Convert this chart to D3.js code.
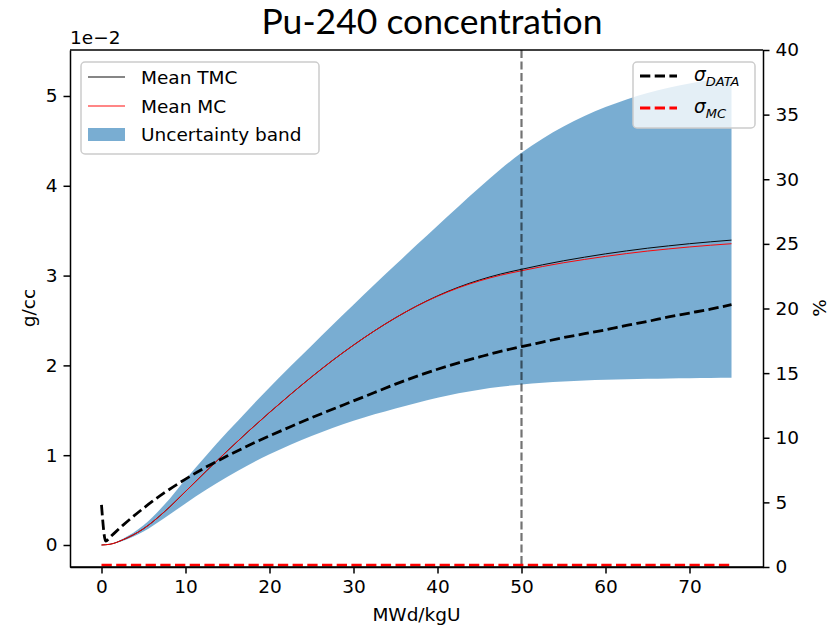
<!DOCTYPE html>
<html>
<head>
<meta charset="utf-8">
<script src="https://cdn.jsdelivr.net/npm/d3@7"></script>
<style>
  body { margin: 0; background: #fff; }
  text { font-family: "DejaVu Sans", sans-serif; fill: #000; }
</style>
</head>
<body>
<svg id="chart" width="837" height="631"></svg>
<script>
// burnup steps (MWd/kgU)
const burnup = [0, 0.5, 1, 2.5, 5, 7.5, 10, 12.5, 15, 17.5, 20, 22.5, 25, 27.5, 30, 32.5, 35, 37.5,
    40, 42.5, 45, 47.5, 50, 52.5, 55, 57.5, 60, 62.5, 65, 67.5, 70, 72.5, 75];

// concentrations, in units of 1e-2 g/cc
const meanTMC = [0, 0.003, 0.008, 0.056, 0.181, 0.371, 0.596, 0.826, 1.05, 1.267, 1.476, 1.677, 1.871,
    2.055, 2.226, 2.385, 2.53, 2.66, 2.774, 2.871, 2.951, 3.017, 3.07, 3.12, 3.165, 3.205, 3.242,
    3.275, 3.305, 3.331, 3.355, 3.376, 3.395];
const meanMC = [0, 0.003, 0.008, 0.056, 0.181, 0.371, 0.596, 0.826, 1.05, 1.267, 1.476, 1.677, 1.871,
    2.055, 2.226, 2.385, 2.53, 2.66, 2.770, 2.864, 2.941, 3.004, 3.054, 3.101, 3.143, 3.18, 3.214,
    3.245, 3.273, 3.297, 3.319, 3.338, 3.355];
const bandLow = [0, 0.003, 0.008, 0.045, 0.15, 0.30, 0.4625, 0.6175, 0.761, 0.892, 1.011, 1.117, 1.213,
    1.302, 1.383, 1.455, 1.521, 1.582, 1.64, 1.69, 1.73, 1.762, 1.788, 1.807, 1.821, 1.832, 1.84,
    1.846, 1.851, 1.855, 1.858, 1.86, 1.862];
const bandHigh = [0, 0.003, 0.009, 0.068, 0.22, 0.45, 0.73, 1.0, 1.26, 1.51, 1.755, 1.99, 2.22,
    2.45, 2.675, 2.9, 3.12, 3.34, 3.555, 3.77, 3.98, 4.184, 4.367, 4.525, 4.66, 4.776, 4.876,
    4.961, 5.032, 5.091, 5.139, 5.177, 5.206];

// relative standard deviations (%)
const sigmaData = [4.8, 2.0, 2.3, 3.2, 4.55, 5.75, 6.8, 7.75, 8.6, 9.4, 10.15, 10.85, 11.55,
    12.2, 12.85, 13.5, 14.15, 14.75, 15.3, 15.8, 16.25, 16.68, 17.05, 17.4, 17.75, 18.05, 18.35,
    18.7, 19.0, 19.35, 19.65, 19.95, 20.3];
const sigmaMC = [0.15, 0.15, 0.15, 0.15, 0.15, 0.15, 0.15, 0.15, 0.15, 0.15, 0.15, 0.15, 0.15,
    0.15, 0.15, 0.15, 0.15, 0.15, 0.15, 0.15, 0.15, 0.15, 0.15, 0.15, 0.15, 0.15, 0.15,
    0.15, 0.15, 0.15, 0.15, 0.15, 0.15];

const xTicks = [0, 10, 20, 30, 40, 50, 60, 70];
const yTicks = [0, 1, 2, 3, 4, 5];
const y2Ticks = [0, 5, 10, 15, 20, 25, 30, 35, 40];
const markerBurnup = 50;

const svg = d3.select("#chart");
const plotLeft = 70, plotRight = 763, plotTop = 50, plotBottom = 567;
const fs = 18.5;

const x = d3.scaleLinear().domain([-3.75, 78.75]).range([plotLeft, plotRight]);
const y = d3.scaleLinear().domain([-0.245, 5.512]).range([plotBottom, plotTop]);
const y2 = d3.scaleLinear().domain([0, 40]).range([plotBottom, plotTop]);

const pts = burnup.map((b, i) => ({ b, tmc: meanTMC[i], mc: meanMC[i], lo: bandLow[i], hi: bandHigh[i], sd: sigmaData[i], smc: sigmaMC[i] }));

// title
svg.append("text")
    .attr("x", 432).attr("y", 34)
    .attr("text-anchor", "middle")
    .style("font-family", "Lato, 'Open Sans', sans-serif")
    .style("font-size", "35.5px")
    .text("Pu-240 concentration");

const plot = svg.append("g");

// uncertainty band
plot.append("path")
    .datum(pts)
    .attr("fill", "#1f77b4")
    .attr("fill-opacity", 0.6)
    .attr("d", d3.area().curve(d3.curveMonotoneX)
        .x(d => x(d.b)).y0(d => y(d.lo)).y1(d => y(d.hi)));

plot.append("path")
    .datum(pts)
    .attr("fill", "none").attr("stroke", "#000").attr("stroke-width", 0.95)
    .attr("d", d3.line().curve(d3.curveMonotoneX).x(d => x(d.b)).y(d => y(d.tmc)));

plot.append("path")
    .datum(pts)
    .attr("fill", "none").attr("stroke", "red").attr("stroke-width", 0.95)
    .attr("d", d3.line().curve(d3.curveMonotoneX).x(d => x(d.b)).y(d => y(d.mc)));

// vertical marker at 50 MWd/kgU
plot.append("line")
    .attr("x1", x(markerBurnup)).attr("x2", x(markerBurnup))
    .attr("y1", plotTop).attr("y2", plotBottom)
    .attr("stroke", "#000").attr("stroke-opacity", 0.55)
    .attr("stroke-width", 2.2)
    .attr("stroke-dasharray", "8,3.5");

// sigma lines on the twin axis
plot.append("path")
    .datum(pts)
    .attr("fill", "none").attr("stroke", "#000").attr("stroke-width", 2.8)
    .attr("stroke-dasharray", "10.3,4.4")
    .attr("d", d3.line().curve(d3.curveMonotoneX).x(d => x(d.b)).y(d => y2(d.sd)));

plot.append("path")
    .datum(pts)
    .attr("fill", "none").attr("stroke", "red").attr("stroke-width", 2.8)
    .attr("stroke-dasharray", "10.3,4.4")
    .attr("d", d3.line().curve(d3.curveMonotoneX).x(d => x(d.b)).y(d => y2(d.smc)));

// axes
function styleAxis(g) {
    g.selectAll("path").attr("stroke-width", 1.5);
    g.selectAll("line").attr("stroke-width", 1.5);
    g.selectAll("text").style("font-size", fs + "px").style("font-family", "'DejaVu Sans'");
}
svg.append("g")
    .attr("transform", `translate(0,${plotBottom})`)
    .call(d3.axisBottom(x).tickValues(xTicks).tickFormat(d3.format("d")).tickSize(6.5).tickPadding(6).tickSizeOuter(0))
    .call(styleAxis);
svg.append("g")
    .attr("transform", `translate(${plotLeft},0)`)
    .call(d3.axisLeft(y).tickValues(yTicks).tickFormat(d3.format("d")).tickSize(6.5).tickPadding(6).tickSizeOuter(0))
    .call(styleAxis);
svg.append("g")
    .attr("transform", `translate(${plotRight},0)`)
    .call(d3.axisRight(y2).tickValues(y2Ticks).tickFormat(d3.format("d")).tickSize(6.5).tickPadding(6).tickSizeOuter(0))
    .call(styleAxis);
// top and bottom spines spanning the whole frame
svg.append("line")
    .attr("x1", plotLeft).attr("x2", plotRight).attr("y1", plotTop).attr("y2", plotTop)
    .attr("stroke", "#000").attr("stroke-width", 1.5);
svg.append("line")
    .attr("x1", plotLeft).attr("x2", plotRight).attr("y1", plotBottom).attr("y2", plotBottom)
    .attr("stroke", "#000").attr("stroke-width", 1.5);

// offset text and labels
svg.append("text").attr("x", 70).attr("y", 44).style("font-size", fs + "px").text("1e\u22122");
svg.append("text").attr("x", 416.5).attr("y", 621).attr("text-anchor", "middle")
    .style("font-size", fs + "px").text("MWd/kgU");
svg.append("text").attr("transform", "translate(35,308) rotate(-90)").attr("text-anchor", "middle")
    .style("font-size", fs + "px").text("g/cc");
svg.append("text").attr("transform", "translate(826,308) rotate(-90)").attr("text-anchor", "middle")
    .style("font-size", fs + "px").text("%");

// left legend
const lg = svg.append("g");
lg.append("rect").attr("x", 81).attr("y", 62).attr("width", 238).attr("height", 92).attr("rx", 4)
    .attr("fill", "#fff").attr("fill-opacity", 0.8).attr("stroke", "#ccc").attr("stroke-width", 1.5);
const leftItems = [
    { label: "Mean TMC", color: "#000", cy: 77 },
    { label: "Mean MC", color: "red", cy: 106 }
];
leftItems.forEach(it => {
    lg.append("line").attr("x1", 88).attr("x2", 125).attr("y1", it.cy).attr("y2", it.cy)
        .attr("stroke", it.color).attr("stroke-width", 0.95);
    lg.append("text").attr("x", 141).attr("y", it.cy + 6.8).style("font-size", fs + "px").text(it.label);
});
lg.append("rect").attr("x", 88).attr("y", 128).attr("width", 37).attr("height", 13)
    .attr("fill", "#1f77b4").attr("fill-opacity", 0.6);
lg.append("text").attr("x", 141).attr("y", 134.5 + 6.8).style("font-size", fs + "px").text("Uncertainty band");

// right legend
const rg = svg.append("g");
rg.append("rect").attr("x", 633).attr("y", 62).attr("width", 122).attr("height", 66).attr("rx", 4)
    .attr("fill", "#fff").attr("fill-opacity", 0.8).attr("stroke", "#ccc").attr("stroke-width", 1.5);
const rightItems = [
    { sub: "DATA", color: "#000", cy: 76 },
    { sub: "MC", color: "red", cy: 108 }
];
rightItems.forEach(it => {
    rg.append("line").attr("x1", 640).attr("x2", 677).attr("y1", it.cy).attr("y2", it.cy)
        .attr("stroke", it.color).attr("stroke-width", 2.8).attr("stroke-dasharray", "10.3,4.4");
    const t = rg.append("text").attr("x", 694).attr("y", it.cy + 5)
        .style("font-size", fs + "px").style("font-style", "italic");
    t.append("tspan").text("\u03c3");
    t.append("tspan").attr("dy", 4.5).style("font-size", "13px").text(it.sub);
});
</script>
</body>
</html>
